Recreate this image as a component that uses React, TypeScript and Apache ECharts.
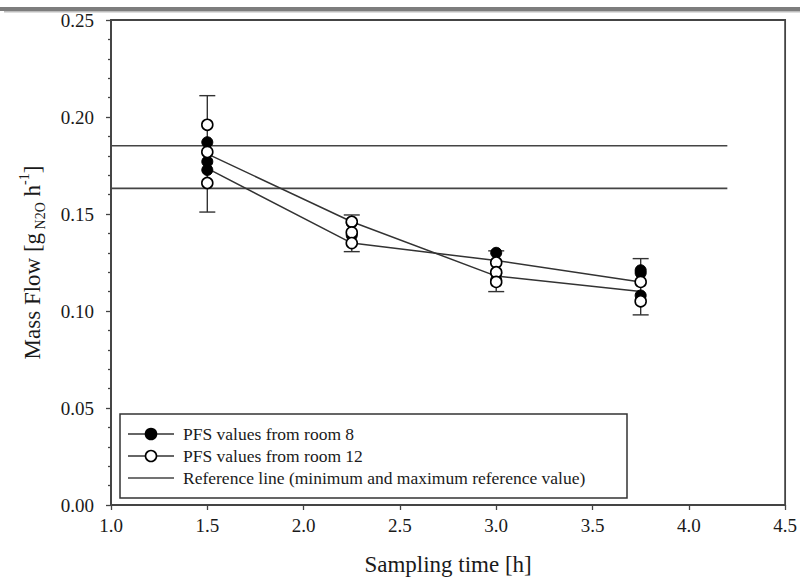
import React, { useEffect, useRef } from "react";
import * as echarts from "echarts";

const times = [1.5, 2.25, 3.0, 3.75];
const room8Mean = [0.1735, 0.135, 0.126, 0.115];
const room12Mean = [0.181, 0.146, 0.118, 0.11];
const room8Samples = [
  [0.187, 0.177, 0.1727],
  [0.1455, 0.139],
  [0.13, 0.1195, 0.116],
  [0.1196, 0.108, 0.121],
];
const room12Samples = [
  [0.196, 0.182, 0.166],
  [0.146, 0.1405, 0.135],
  [0.125, 0.12, 0.115],
  [0.115, 0.105],
];
const errLow = [0.151, 0.1306, 0.11, 0.098];
const errHigh = [0.211, 0.1495, 0.131, 0.127];
const refValues = [0.1632, 0.1852];
const refRange = [1.0, 4.2];
const legendLabels = [
  "PFS values from room 8",
  "PFS values from room 12",
  "Reference line (minimum and maximum reference value)",
];

const FONT = "'Liberation Serif', 'DejaVu Serif', serif";

export default function App() {
  const ref = useRef<HTMLDivElement>(null);
  useEffect(() => {
    if (!ref.current) return;
    const chart = echarts.init(ref.current, null, { renderer: "svg" });
    const flat = (s: number[][]) =>
      s.flatMap((arr, i) => arr.map((v) => [times[i], v]));

    const legendRows = [434, 456, 478];
    const option: any = {
      animation: false,
      backgroundColor: "#fff",
      textStyle: { fontFamily: FONT },
      grid: {
        left: 111,
        right: 13,
        top: 20,
        bottom: 79,
        show: true,
        borderColor: "#444",
        borderWidth: 1.8,
      },
      xAxis: {
        type: "value",
        min: 1,
        max: 4.5,
        interval: 0.5,
        name: "Sampling time [h]",
        nameLocation: "middle",
        nameGap: 48,
        nameTextStyle: { fontFamily: FONT, fontSize: 23, color: "#1a1a1a" },
        axisLine: { show: true, onZero: false, lineStyle: { color: "#444", width: 1.8 } },
        axisTick: { show: true, length: 5, lineStyle: { color: "#444", width: 1.3 } },
        splitLine: { show: false },
        axisLabel: {
          fontFamily: FONT,
          fontSize: 19,
          color: "#1a1a1a",
          margin: 11,
          formatter: (v: number) => v.toFixed(1),
        },
      },
      yAxis: {
        type: "value",
        min: 0,
        max: 0.25,
        interval: 0.05,
        name: "{n|Mass Flow [g}{s| N2O}{n| h}{p|-1}{n|]}",
        nameLocation: "middle",
        nameGap: 64,
        nameRotate: 90,
        nameTextStyle: {
          fontFamily: FONT,
          fontSize: 23,
          color: "#1a1a1a",
          rich: {
            n: { fontFamily: FONT, fontSize: 23, color: "#1a1a1a", lineHeight: 30, verticalAlign: "middle" },
            s: { fontFamily: FONT, fontSize: 14, color: "#1a1a1a", lineHeight: 30, verticalAlign: "bottom", padding: [9, 0, 0, 0] },
            p: { fontFamily: FONT, fontSize: 14, color: "#1a1a1a", lineHeight: 30, verticalAlign: "top", padding: [0, 0, 9, 0] },
          },
        },
        axisLine: { show: true, onZero: false, lineStyle: { color: "#444", width: 1.8 } },
        axisTick: { show: true, length: 5, lineStyle: { color: "#444", width: 1.3 } },
        minorTick: { show: true, splitNumber: 5, length: 3, lineStyle: { color: "#444", width: 1.3 } },
        splitLine: { show: false },
        axisLabel: {
          fontFamily: FONT,
          fontSize: 19,
          color: "#1a1a1a",
          margin: 17,
          formatter: (v: number) => v.toFixed(2),
        },
      },
      series: [
        ...refValues.map((v) => ({
          type: "line",
          data: [
            [refRange[0], v],
            [refRange[1], v],
          ],
          symbol: "none",
          lineStyle: { color: "#444", width: 1.6 },
          z: 1,
        })),
        {
          type: "custom",
          data: times.map((t, i) => [t, errLow[i], errHigh[i]]),
          encode: { x: 0, y: [1, 2] },
          z: 2,
          renderItem: (params: any, api: any) => {
            const x = api.value(0);
            const lo = api.coord([x, api.value(1)]);
            const hi = api.coord([x, api.value(2)]);
            const w = 8;
            const st = { stroke: "#333", lineWidth: 1.4 };
            return {
              type: "group",
              children: [
                { type: "line", shape: { x1: lo[0], y1: lo[1], x2: hi[0], y2: hi[1] }, style: st },
                { type: "line", shape: { x1: lo[0] - w, y1: lo[1], x2: lo[0] + w, y2: lo[1] }, style: st },
                { type: "line", shape: { x1: hi[0] - w, y1: hi[1], x2: hi[0] + w, y2: hi[1] }, style: st },
              ],
            };
          },
        },
        {
          name: legendLabels[0] + " mean",
          type: "line",
          data: times.map((t, i) => [t, room8Mean[i]]),
          symbol: "none",
          lineStyle: { color: "#333", width: 1.5 },
          z: 3,
        },
        {
          name: legendLabels[1] + " mean",
          type: "line",
          data: times.map((t, i) => [t, room12Mean[i]]),
          symbol: "none",
          lineStyle: { color: "#333", width: 1.5 },
          z: 3,
        },
        {
          name: legendLabels[0],
          type: "scatter",
          data: flat(room8Samples),
          symbol: "circle",
          symbolSize: 11,
          itemStyle: { color: "#000", borderColor: "#000", borderWidth: 1, opacity: 1 },
          z: 4,
        },
        {
          name: legendLabels[1],
          type: "scatter",
          data: flat(room12Samples),
          symbol: "circle",
          symbolSize: 11,
          itemStyle: { color: "#fff", borderColor: "#000", borderWidth: 1.6, opacity: 1 },
          z: 5,
        },
      ],
      graphic: [
        {
          type: "rect",
          shape: { x: 0, y: 7, width: 800, height: 4 },
          style: { fill: "#7d7d7d" },
          z: 100,
        },
        {
          type: "rect",
          shape: { x: 4, y: 11, width: 796, height: 1.5 },
          style: { fill: "#bdbdbd" },
          z: 100,
        },
        {
          type: "group",
          z: 100,
          children: [
            {
              type: "rect",
              shape: { x: 120, y: 414, width: 507, height: 84 },
              style: { fill: "#fff", stroke: "#333", lineWidth: 1.5 },
            },
            ...legendRows.flatMap((y, i) => {
              const items: any[] = [
                {
                  type: "line",
                  shape: { x1: 128, y1: y, x2: 174, y2: y },
                  style: { stroke: i === 2 ? "#444" : "#333", lineWidth: 1.6 },
                },
              ];
              if (i < 2) {
                items.push({
                  type: "circle",
                  shape: { cx: 151, cy: y, r: 5.5 },
                  style: {
                    fill: i === 0 ? "#000" : "#fff",
                    stroke: "#000",
                    lineWidth: 1.6,
                  },
                });
              }
              items.push({
                type: "text",
                x: 183,
                y: y,
                style: {
                  text: legendLabels[i],
                  fontFamily: FONT,
                  fontSize: 17.5,
                  fill: "#1a1a1a",
                  verticalAlign: "middle",
                  align: "left",
                },
              });
              return items;
            }),
          ],
        },
      ],
    };
    chart.setOption(option);
    return () => chart.dispose();
  }, []);
  return (
    <div
      ref={ref}
      style={{ position: "fixed", left: 0, top: 0, width: 800, height: 584 }}
    />
  );
}
